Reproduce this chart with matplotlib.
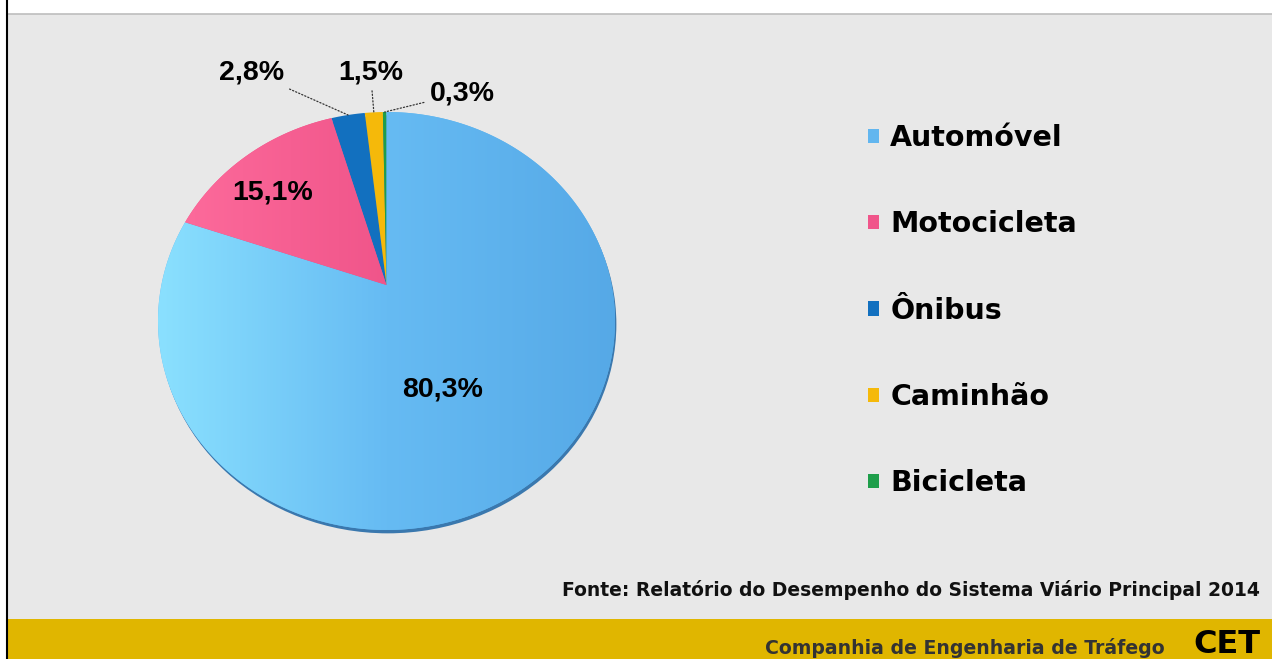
import numpy as np
import matplotlib
matplotlib.use('Agg')
import matplotlib.pyplot as plt
from matplotlib.patches import Rectangle, Ellipse, Polygon
from matplotlib.colors import LinearSegmentedColormap

# data
labels = ['Automóvel', 'Motocicleta', 'Ônibus', 'Caminhão', 'Bicicleta']
values = [80.3, 15.1, 2.8, 1.5, 0.3]
colors = ['#62B6EF', '#F0558A', '#1270BF', '#F5B90A', '#1E9E4A']
source = 'Fonte: Relatório do Desempenho do Sistema Viário Principal 2014'
company = 'Companhia de Engenharia de Tráfego'

W, H = 1272, 659
fig = plt.figure(figsize=(W / 100, H / 100), dpi=100)
fig.patch.set_facecolor('white')

# slide background, top line, left border and yellow footer band
fig.add_artist(Rectangle((7 / W, 40 / H), 1, 605 / H, transform=fig.transFigure,
                         facecolor='#E8E8E8', edgecolor='none', zorder=0))
fig.add_artist(plt.Line2D([7 / W, 1], [1 - 14 / H, 1 - 14 / H], transform=fig.transFigure,
                          color='#BDBDBD', lw=1.2, zorder=1))
fig.add_artist(Rectangle((7 / W, 0), 1, 40 / H, transform=fig.transFigure,
                         facecolor='#E0B600', edgecolor='none', zorder=1))
fig.add_artist(plt.Line2D([7 / W, 7 / W], [0, 1], transform=fig.transFigure,
                          color='black', lw=1.5, zorder=2))

ax = fig.add_axes([158 / W, 1 - 530 / H, 457 / W, 418 / H])
ax.axis('off')

wedges, _ = ax.pie(values, colors=colors, startangle=90, counterclock=False,
                   wedgeprops=dict(linewidth=0))

# perspective tilt of the pie (far side squeezed, like the 3D original)
k = 0.172
def tilt(xy):
    x, y = xy[:, 0], xy[:, 1]
    d = 1 + k * y
    return np.column_stack([np.sqrt(1 - k * k) * x / d, (y + k) / d])

patches = []
for w, lab in zip(wedges, labels):
    t = np.deg2rad(np.linspace(w.theta1, w.theta2, 400))
    cx, cy = w.center
    pts = np.column_stack([cx + w.r * np.cos(t), cy + w.r * np.sin(t)])
    pts = np.vstack([[cx, cy], pts])
    pp = Polygon(tilt(pts), closed=True, facecolor=w.get_facecolor(), edgecolor='none',
                 label=lab, zorder=2)
    ax.add_patch(pp)
    patches.append(pp)
    w.remove()

# shading on the two big slices
grad = np.linspace(0, 1, 256).reshape(1, -1)
shades = {0: ['#8CE2FF', '#66BBF3', '#55A8E6'], 1: ['#FF6E9E', '#F0558A', '#E2457A']}
for i, cols in shades.items():
    im = ax.imshow(grad, extent=(-1.05, 1.05, -1.05, 1.05), aspect='auto',
                   cmap=LinearSegmentedColormap.from_list('g%d' % i, cols), zorder=2.5)
    im.set_clip_path(patches[i])

# thin dark rim below the pie
ax.add_patch(Ellipse((0.006, -0.016), 2.0, 2.0, facecolor='#3A78AE', edgecolor='none',
                     zorder=1, clip_on=False))

ax.set_xlim(-1, 1)
ax.set_ylim(-1, 1)
ax.set_aspect('auto')

def fmt(v):
    return f'{v:.1f}'.replace('.', ',') + '%'

lab_font = dict(fontsize=20.5, fontweight='bold', family='Liberation Sans', color='black')
ax.text(0.245, -0.33, fmt(values[0]), ha='center', va='center', zorder=5, **lab_font)
ax.text(-0.5, 0.617, fmt(values[1]), ha='center', va='center', zorder=5, **lab_font)

total = sum(values)
cum = np.cumsum([0] + values[:-1])
out_pos = {2: (-0.59, 1.19), 3: (-0.07, 1.19), 4: (0.33, 1.09)}
for i, (tx, ty) in out_pos.items():
    ang = np.deg2rad(90 - 360 * (cum[i] + values[i] / 2) / total)
    rim = tilt(np.array([[np.cos(ang), np.sin(ang)]]))[0]
    ax.annotate(fmt(values[i]), xy=rim, xytext=(tx, ty),
                ha='center', va='center', zorder=5, annotation_clip=False,
                arrowprops=dict(arrowstyle='-', linestyle=':', color='#333333', lw=0.9,
                                shrinkA=2, shrinkB=0),
                **lab_font)

fig.legend(handles=patches, labels=labels, loc='upper left',
           bbox_to_anchor=(868 / W, 1 - 124 / H), frameon=False,
           prop=dict(family='DejaVu Sans', weight='bold', size=20.5),
           handlelength=0.40, handleheight=0.40, handletextpad=0.38,
           labelspacing=2.05, borderpad=0, borderaxespad=0)

fig.text(1260 / W, 1 - 590 / H, source, ha='right', va='center',
         fontsize=13.5, fontweight='bold', family='DejaVu Sans', color='#111111')
fig.text(1165 / W, 5 / H, company, ha='right', va='baseline',
         fontsize=13.6, fontweight='bold', family='DejaVu Sans', color='#333333', zorder=3)
fig.text(1193 / W, 6 / H, 'CET', ha='left', va='baseline', fontsize=23,
         fontweight='heavy', family='DejaVu Sans', color='black', zorder=3)

fig.savefig('out.png', dpi=100)
